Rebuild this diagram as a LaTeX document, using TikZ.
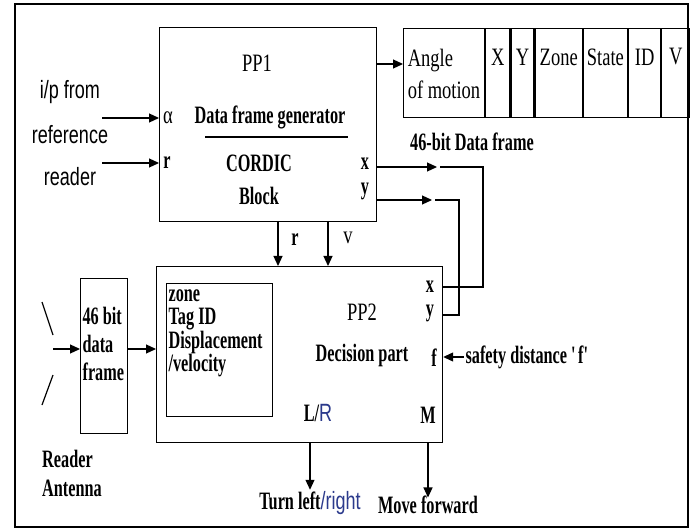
\documentclass[tikz,border=0pt]{standalone}
\usepackage{fontspec}
\setmainfont{Liberation Serif}[FakeStretch=0.74, BoldFeatures={FakeStretch=0.65}]
\newfontfamily\narrowsans{Liberation Sans}[FakeStretch=0.72]
\usepackage{xcolor}
\usetikzlibrary{arrows.meta, positioning, calc}
\definecolor{rightblue}{HTML}{2B3A8C}
\tikzset{every node/.style={font=\fontsize{25}{26}\selectfont}}

\begin{document}
\begin{tikzpicture}[x=1pt, y=-1pt, line width=1.2pt,
    blockbox/.style={draw, anchor=north west, inner sep=0pt},
    cell/.style={draw, minimum height=89pt, inner sep=0pt, anchor=north west},
    sig/.style={-{Triangle[length=10pt, width=9pt]}},
    lbl/.style={font=\fontsize{25}{26}\selectfont\bfseries, inner sep=1pt},
    plain/.style={inner sep=1pt},
    sanslbl/.style={font=\fontsize{25}{26}\selectfont\narrowsans, inner sep=1pt}]
  \useasboundingbox (0,0) rectangle (693,529);
  \draw (15,4) rectangle (688,527);

  % blocks
  \node[blockbox, minimum width=217pt, minimum height=194pt] (pp1) at (159,27) {};
  \node[blockbox, minimum width=286pt, minimum height=176pt] (pp2) at (156,266) {};
  \node[blockbox, minimum width=106pt, minimum height=133pt] (inner) at (166,283) {};
  \node[blockbox, minimum width=47pt, minimum height=155pt] (frame) at (80,278) {};

  % data frame table
  \node[cell, minimum width=81pt] (cangle) at (403,28) {};
  \node[cell, minimum width=24pt, right=0pt of cangle.north east, anchor=north west] (cx) {};
  \node[cell, minimum width=23pt, right=0pt of cx.north east, anchor=north west] (cy) {};
  \node[cell, minimum width=47pt, right=0pt of cy.north east, anchor=north west] (czone) {};
  \node[cell, minimum width=44pt, right=0pt of czone.north east, anchor=north west] (cstate) {};
  \node[cell, minimum width=32pt, right=0pt of cstate.north east, anchor=north west] (cid) {};
  \node[cell, minimum width=28pt, right=0pt of cid.north east, anchor=north west] (cv) {};
  \node[plain, align=left, font=\fontsize{25}{32}\selectfont] at (444,74) {Angle\\of motion};
  \node[plain] at ($(cx.north)+(0,29)$) {X};
  \node[plain] at ($(cy.north)+(0,29)$) {Y};
  \node[plain] at ($(czone.north)+(0,29)$) {Zone};
  \node[plain] at ($(cstate.north)+(0,29)$) {State};
  \node[plain] at ($(cid.north)+(0,29)$) {ID};
  \node[plain] at ($(cv.north)+(0,29)$) {V};
  \node[lbl] (framelbl) at (472,142) {46-bit Data frame};

  % PP1 contents
  \node[plain] (pp1lbl) at (257,63) {PP1};
  \node[lbl] (gen) at (270,117) {Data frame generator};
  \draw (205,137) -- (348,137);
  \node[lbl] (cordic) at (259,163) {CORDIC};
  \node[lbl] (blk) at (259,196) {Block};
  \node[plain] (alpha) at (168,118) {α};
  \node[lbl] (rin) at (167,163) {r};
  \node[lbl] (xout) at (365,164) {x};
  \node[lbl] (yout) at (365,191) {y};

  % inputs from reference reader
  \node[sanslbl] (ip1) at (70,92) {i/p from};
  \node[sanslbl] (ip2) at (70,135) {reference};
  \node[sanslbl] (ip3) at (70,177) {reader};
  \coordinate (ain) at (102,118);
  \coordinate (rsrc) at (102,163);
  \draw[sig] (ain) -- (ain -| pp1.west);
  \draw[sig] (rsrc) -- (rsrc -| pp1.west);

  % angle of motion
  \coordinate (aout) at (376,64);
  \draw[sig] (aout) -- (aout -| cangle.west);

  % x, y to PP2
  \coordinate (xmid) at (437,167);
  \coordinate (xturn) at (483,167);
  \coordinate (ymid) at (432,200);
  \coordinate (yturn) at (459,200);
  \draw[sig] (xmid -| pp1.east) -- (xmid);
  \draw ([xshift=3pt]xmid) -- (xturn) |- (pp2.east |- 0,287);
  \draw[sig] (ymid -| pp1.east) -- (ymid);
  \draw ([xshift=3pt]ymid) -- (yturn) |- (pp2.east |- 0,315);

  % r, v to PP2
  \coordinate (rdown) at (278,221);
  \coordinate (vdown) at (328,221);
  \draw[sig] (rdown) -- (rdown |- pp2.north);
  \draw[sig] (vdown) -- (vdown |- pp2.north);
  \node[lbl] (rlbl) at (295,240) {r};
  \node[plain] (vlbl) at (348,238) {v};

  % PP2 contents
  \node[plain] (pp2lbl) at (362,312) {PP2};
  \node[lbl] (dec) at (362,355) {Decision part};
  \node[lbl] (xin) at (430,287) {x};
  \node[lbl] (yin) at (430,313) {y};
  \node[lbl] (fin) at (434,358) {f};
  \node[lbl] (mout) at (428,415) {M};
  \node[lbl] (lr) at (318,413) {L/{\mdseries\narrowsans\color{rightblue}R}};
  \node[lbl, align=left, anchor=north west, font=\fontsize{25}{23.5}\selectfont\bfseries] (innertxt) at (167,288)
    {zone\\Tag ID\\Displacement\\/velocity};

  % safety distance
  \node[lbl, anchor=west] (safe) at (464,357) {safety distance \textquotesingle f\textquotesingle};
  \draw[sig] (safe.west) -- (safe.west -| pp2.east);

  % reader antenna
  \draw (42,302) -- (53,335);
  \draw (53,375) -- (42,405);
  \coordinate (ant) at (53,349);
  \draw[sig] (ant) -- (ant -| frame.west);
  \draw[sig] (ant -| frame.east) -- (ant -| pp2.west);
  \node[lbl, align=left, anchor=north west, font=\fontsize{25}{28}\selectfont\bfseries] (frametxt) at (81,306)
    {46 bit\\data\\frame};
  \node[lbl, align=left, font=\fontsize{25}{29}\selectfont\bfseries] (antlbl) at (72,473) {Reader\\Antenna};

  % outputs
  \node[lbl] (turn) at (310,503) {Turn left{\mdseries\narrowsans\color{rightblue}/right}};
  \node[lbl] (move) at (428,505) {Move forward};
  \draw[sig] (turn.north |- pp2.south) -- (turn.north);
  \draw[sig] (mout.south |- pp2.south) -- ([yshift=-3pt]mout.south |- move.north);
\end{tikzpicture}
\end{document}
